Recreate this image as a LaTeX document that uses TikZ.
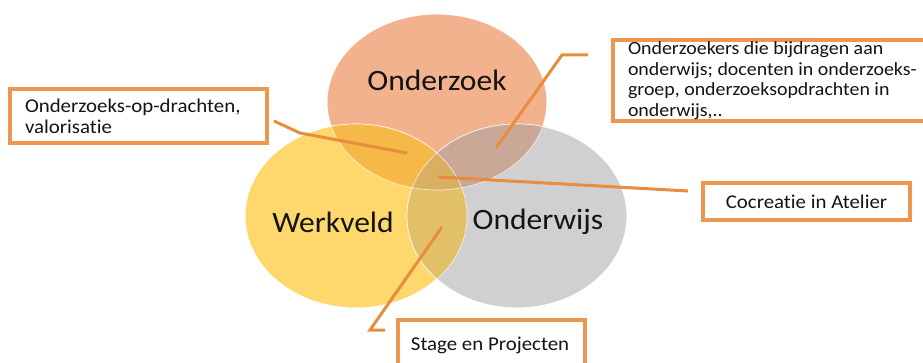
\documentclass[tikz,border=0pt]{standalone}
\usepackage{fontspec}
\setmainfont{Carlito}[FakeStretch=1.07,Ligatures={NoCommon}]
\usetikzlibrary{shapes.geometric}
\definecolor{orz}{RGB}{242,178,142}
\definecolor{yel}{RGB}{254,216,108}
\definecolor{gry}{RGB}{208,208,208}
\definecolor{oy}{RGB}{246,184,71}
\definecolor{og}{RGB}{201,168,152}
\definecolor{yg}{RGB}{226,192,104}
\definecolor{ogy}{RGB}{217,176,98}
\definecolor{linecol}{RGB}{232,140,62}
\definecolor{boxcol}{RGB}{236,150,82}
\definecolor{txt}{RGB}{20,20,20}
\begin{document}
\begin{tikzpicture}[x=1pt,y=-1pt,
  circ/.style={ellipse,inner sep=0pt,draw=white,line width=0.7pt},
  bigtext/.style={font=\fontsize{29.5}{33}\selectfont,text=txt,inner sep=0pt},
  boxed/.style={draw=boxcol,line width=3.2pt,fill=white,text=txt,
    font=\fontsize{19.5}{20.8}\selectfont,inner ysep=0pt},
  conn/.style={draw=linecol,line width=3pt}]
\useasboundingbox (0,0) rectangle (923,363);
\clip (0,0) rectangle (923,363);
% circles
\node[circ,fill=orz,minimum width=220pt,minimum height=176pt] (onz) at (437,102) {};
\node[circ,fill=yel,minimum width=222pt,minimum height=184pt] (wrk) at (356,216) {};
\node[circ,fill=gry,minimum width=220pt,minimum height=184pt] (ondw) at (517,216) {};
% overlaps
\begin{scope}
  \clip (437,102) ellipse [x radius=110, y radius=88];
  \fill[oy] (356,216) ellipse [x radius=111, y radius=92];
  \fill[og] (517,216) ellipse [x radius=110, y radius=92];
\end{scope}
\begin{scope}
  \clip (356,216) ellipse [x radius=111, y radius=92];
  \fill[yg] (517,216) ellipse [x radius=110, y radius=92];
  \clip (517,216) ellipse [x radius=110, y radius=92];
  \fill[ogy] (437,102) ellipse [x radius=110, y radius=88];
\end{scope}
\draw[white,line width=0.7pt,opacity=0.7] (437,102) ellipse [x radius=110, y radius=88];
\draw[white,line width=0.7pt,opacity=0.7] (356,216) ellipse [x radius=111, y radius=92];
\draw[white,line width=0.7pt,opacity=0.7] (517,216) ellipse [x radius=110, y radius=92];
% circle labels
\node[bigtext] (tonz) at (437,80) {Onderzoek};
\node[bigtext] (twrk) at (333,222) {Werkveld};
\node[bigtext] (tondw) at (538,222) {Onderwijs};
% boxes
\node[boxed,minimum width=257pt,minimum height=54pt,text width=227pt,align=flush left,inner xsep=15pt]
  (b1) at (138.5,116) {Onderzoeks-op-drachten,\\valorisatie};
\node[boxed,minimum width=370pt,minimum height=81pt,text width=340pt,align=flush left,inner xsep=15pt,
  font=\fontsize{18.6}{20.6}\selectfont]
  (b2) at (798,80.5) {Onderzoekers die bijdragen aan\\onderwijs; docenten in onderzoeks-\\groep, onderzoeksopdrachten in\\onderwijs,..};
\node[boxed,minimum width=207pt,minimum height=37pt] (b3) at (806.5,201.5) {Cocreatie in Atelier};
\node[boxed,minimum width=187pt,minimum height=56pt,inner xsep=0pt] (b4) at (491.5,348) {};
\node[font=\fontsize{19.5}{20.8}\selectfont,text=txt,inner sep=0pt] (t4) at (490,345) {Stage en Projecten};
% connector coordinates
\coordinate (a1) at (274,121);
\coordinate (m1) at (300,133);
\coordinate (e1) at (407,153);
\coordinate (a2) at (588,55);
\coordinate (m2) at (562,55);
\coordinate (e2) at (496,148);
\coordinate (a3) at (688,191);
\coordinate (e3) at (438,177);
\coordinate (a4) at (385,330);
\coordinate (m4) at (370,330);
\coordinate (e4) at (442,227);
\draw[conn] (a1) -- (m1) -- (e1);
\draw[conn] (a2) -- (m2) -- (e2);
\draw[conn] (a3) -- (e3);
\draw[conn] (a4) -- (m4) -- (e4);
\end{tikzpicture}
\end{document}
